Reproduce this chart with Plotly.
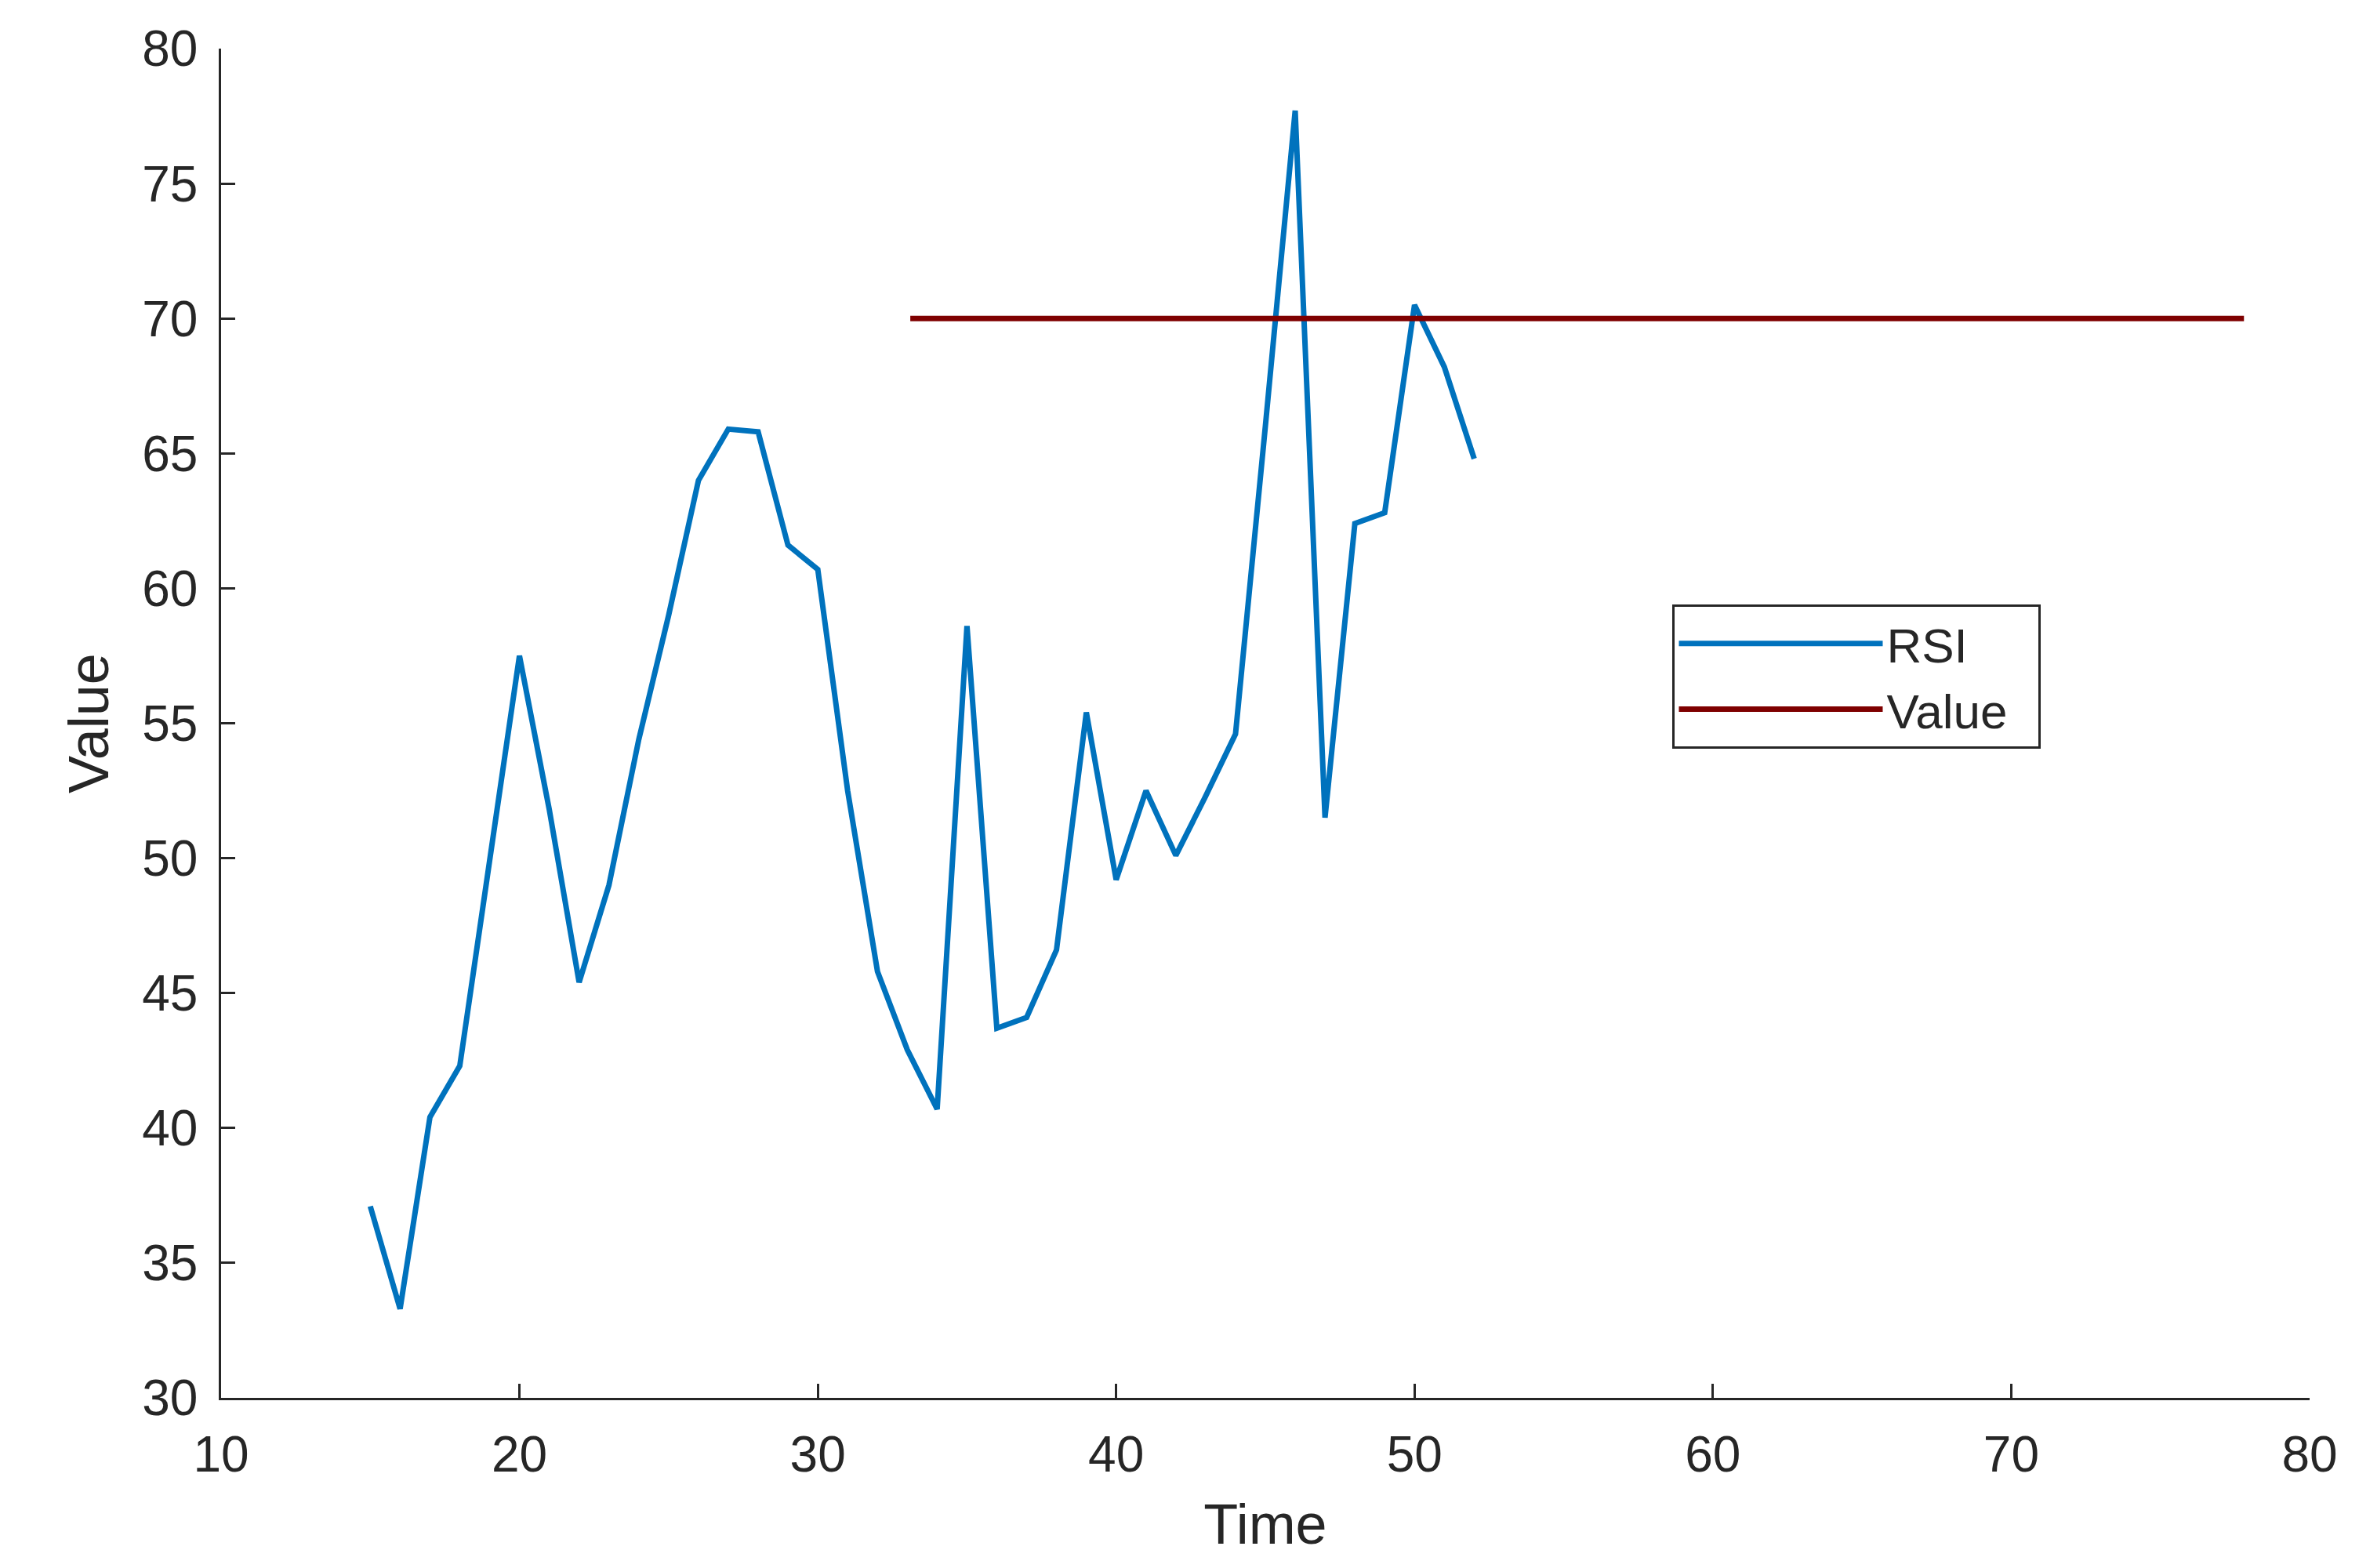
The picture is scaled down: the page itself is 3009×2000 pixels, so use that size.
import plotly.graph_objects as go

# RSI series
time = list(range(15, 53))
rsi = [37.1, 33.3, 40.4, 42.3, 49.9, 57.5, 51.8, 45.4, 49.0, 54.4,
       59.0, 64.0, 65.9, 65.8, 61.6, 60.7, 52.5, 45.8, 42.9, 40.7,
       58.6, 43.7, 44.1, 46.6, 55.4, 49.2, 52.5, 50.1, 52.3, 54.6,
       66.0, 77.7, 51.5, 62.4, 62.8, 70.5, 68.2, 64.8]

# threshold line
value_x = [33.1, 77.8]
value_y = [70, 70]

fig = go.Figure()
fig.add_trace(go.Scatter(x=time, y=rsi, mode='lines', name='RSI',
                         line=dict(color='#0072BD', width=7)))
fig.add_trace(go.Scatter(x=value_x, y=value_y, mode='lines', name='Value  ',
                         line=dict(color='#7F0000', width=7)))

axis_common = dict(showgrid=False, zeroline=False, showline=True, linecolor='#262626',
                   linewidth=2.5, ticks='inside', ticklen=18, tickwidth=2.5,
                   tickcolor='#262626', tickfont=dict(size=64, color='#262626'),
                   ticklabelstandoff=14, mirror=False)
fig.update_xaxes(range=[10, 80], dtick=10, title=dict(text='Time', font=dict(size=72, color='#262626'), standoff=30),
                 **axis_common)
fig.update_yaxes(range=[30, 80], dtick=5, title=dict(text='Value', font=dict(size=72, color='#262626'), standoff=20),
                 **axis_common)

fig.update_layout(
    width=3009, height=2000,
    margin=dict(l=274, r=71, t=54, b=225),
    plot_bgcolor='white', paper_bgcolor='white',
    font=dict(family='Liberation Sans, Arial, sans-serif', color='#262626'),
    legend=dict(x=0.695, y=0.588, xanchor='left', yanchor='top',
                bgcolor='white', bordercolor='#262626', borderwidth=3,
                font=dict(size=62), itemwidth=260, tracegroupgap=4),
)

fig.write_html("out.html")
